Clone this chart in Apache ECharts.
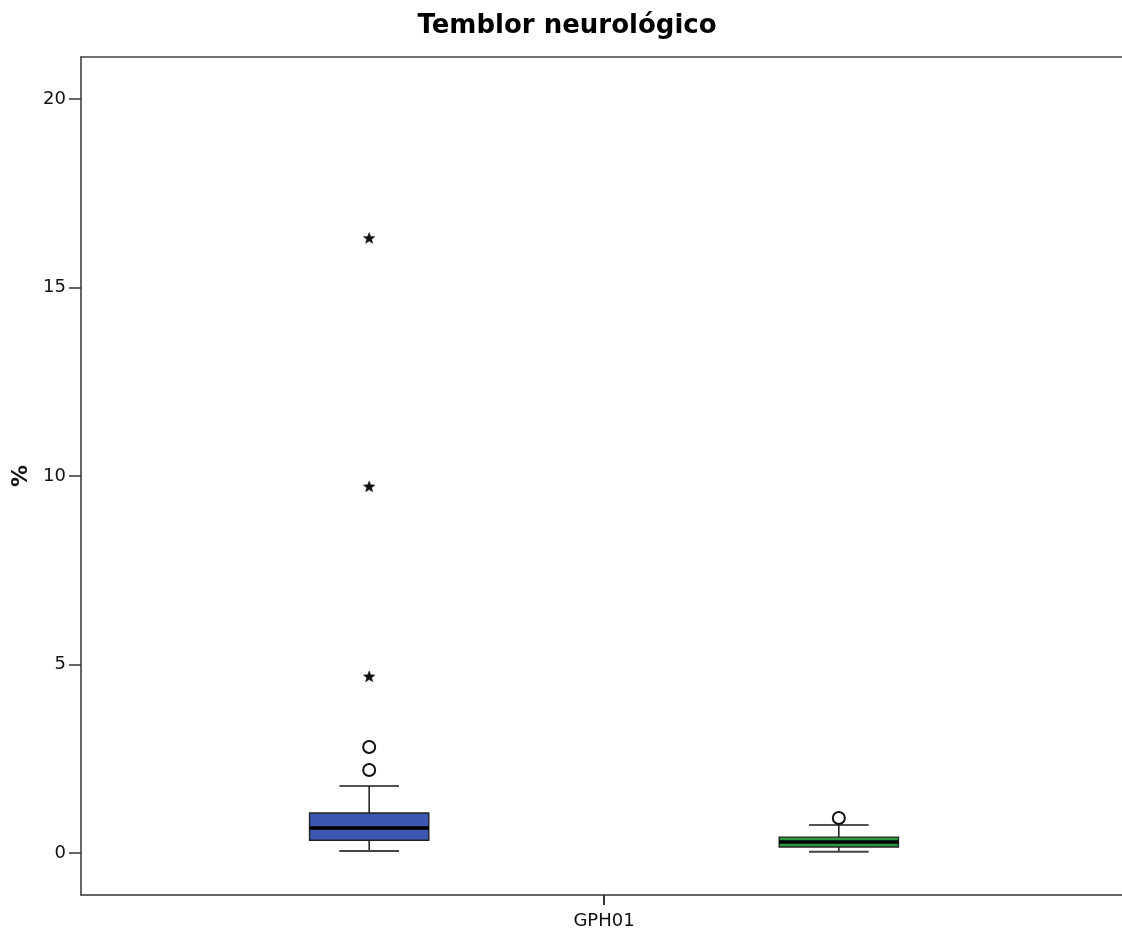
<!DOCTYPE html>
<html><head><meta charset="utf-8">
<script src="https://cdn.jsdelivr.net/npm/echarts@6/dist/echarts.min.js"></script>
<style>html,body{margin:0;padding:0;background:#fff}#c{width:1122px;height:931px}</style>
</head><body><div id="c"></div>
<script>
const categories = ['GPH01'];
// box statistics: [min, Q1, median, Q3, max]
const boxBlue = [0.05, 0.34, 0.66, 1.06, 1.78];
const boxGreen = [0.03, 0.16, 0.29, 0.42, 0.74];
// outliers (circles) and extremes (stars)
const outliersBlue = [2.20, 2.81];
const extremesBlue = [4.67, 9.71, 16.3];
const outliersGreen = [0.93];
const extremesGreen = [];
const yTicks = [0, 5, 10, 15, 20];

const BLUE = '#3b57b0', GREEN = '#2b9a3d';
const OFFSETS = [-0.2245, 0.2245];
const BOXW = 0.114;

function boxRender(off, color) {
  return function (params, api) {
    const band = api.size([1, 0])[0];
    const cx = api.coord([api.value(0), 0])[0] + off * band;
    const w = band * BOXW;
    const y = [1, 2, 3, 4, 5].map(i => api.coord([api.value(0), api.value(i)])[1]);
    const cap = w / 2;
    const ls = { stroke: '#1a1a1a', lineWidth: 1.5 };
    return {
      type: 'group',
      children: [
        { type: 'line', shape: { x1: cx, y1: y[4], x2: cx, y2: y[3] }, style: ls },
        { type: 'line', shape: { x1: cx, y1: y[1], x2: cx, y2: y[0] }, style: ls },
        { type: 'line', shape: { x1: cx - cap / 2, y1: y[4], x2: cx + cap / 2, y2: y[4] }, style: ls },
        { type: 'line', shape: { x1: cx - cap / 2, y1: y[0], x2: cx + cap / 2, y2: y[0] }, style: { stroke: '#444', lineWidth: 2 } },
        { type: 'rect', shape: { x: cx - w / 2, y: y[3], width: w, height: y[1] - y[3] }, style: { fill: color, stroke: '#222', lineWidth: 1.4 } },
        { type: 'line', shape: { x1: cx - w / 2, y1: y[2], x2: cx + w / 2, y2: y[2] }, style: { stroke: '#000', lineWidth: 3.5 } }
      ]
    };
  };
}

function starPoints(cx, cy, ro, ri) {
  const pts = [];
  for (let i = 0; i < 10; i++) {
    const r = i % 2 === 0 ? ro : ri;
    const a = -Math.PI / 2 + i * Math.PI / 5;
    pts.push([cx + r * Math.cos(a), cy + r * Math.sin(a)]);
  }
  return pts;
}

function pointRender(off, kind) {
  return function (params, api) {
    const band = api.size([1, 0])[0];
    const p = api.coord([api.value(0), api.value(1)]);
    const cx = p[0] + off * band;
    if (kind === 'circle') {
      return { type: 'circle', shape: { cx: cx, cy: p[1], r: 6 }, style: { fill: '#fff', stroke: '#111', lineWidth: 2 } };
    }
    return { type: 'polygon', shape: { points: starPoints(cx, p[1], 6, 2.6) }, style: { fill: '#111', stroke: '#111', lineWidth: 0.5 } };
  };
}

const chart = echarts.init(document.getElementById('c'), null, { renderer: 'canvas' });
const FONT = 'DejaVu Sans';
chart.setOption({
  animation: false,
  backgroundColor: '#fff',
  title: {
    text: 'Temblor neurológico', left: 562, top: 8, textAlign: 'center',
    textStyle: { fontFamily: FONT, fontWeight: 'bold', fontSize: 26, color: '#000' }
  },
  grid: { left: 81, top: 57, bottom: 36, width: 1046, outerBoundsMode: 'none', show: false },
  xAxis: [{
    type: 'category', data: categories,
    axisLine: { show: true, onZero: false, lineStyle: { color: '#333', width: 1.5 } },
    axisTick: { show: true, alignWithLabel: true, length: 10, lineStyle: { color: '#333', width: 2 } },
    axisLabel: { fontFamily: FONT, fontSize: 18, color: '#111', margin: 17 },
    splitLine: { show: false }
  }, {
    type: 'category', data: categories, position: 'top',
    axisLine: { show: true, onZero: false, lineStyle: { color: '#444', width: 1.5 } },
    axisTick: { show: false }, axisLabel: { show: false }, splitLine: { show: false }
  }],
  yAxis: {
    type: 'value', min: -1.114, max: 21.114,
    name: '%', nameLocation: 'middle', nameRotate: 90, nameGap: 34,
    nameTextStyle: { fontFamily: FONT, fontWeight: 'bold', fontSize: 22, color: '#111' },
    axisLine: { show: true, lineStyle: { color: '#333', width: 1.5 } },
    axisTick: { show: true, length: 12, customValues: yTicks, lineStyle: { color: '#333', width: 1.5 } },
    axisLabel: { fontFamily: FONT, fontSize: 18, color: '#111', margin: 15, customValues: yTicks },
    splitLine: { show: false }
  },
  series: [
    { type: 'custom', renderItem: boxRender(OFFSETS[0], BLUE), encode: { x: 0, y: [1, 2, 3, 4, 5] }, data: [[0].concat(boxBlue)] },
    { type: 'custom', renderItem: boxRender(OFFSETS[1], GREEN), encode: { x: 0, y: [1, 2, 3, 4, 5] }, data: [[0].concat(boxGreen)] },
    { type: 'custom', renderItem: pointRender(OFFSETS[0], 'circle'), encode: { x: 0, y: 1 }, data: outliersBlue.map(v => [0, v]) },
    { type: 'custom', renderItem: pointRender(OFFSETS[0], 'star'), encode: { x: 0, y: 1 }, data: extremesBlue.map(v => [0, v]) },
    { type: 'custom', renderItem: pointRender(OFFSETS[1], 'circle'), encode: { x: 0, y: 1 }, data: outliersGreen.map(v => [0, v]) },
    { type: 'custom', renderItem: pointRender(OFFSETS[1], 'star'), encode: { x: 0, y: 1 }, data: extremesGreen.map(v => [0, v]) }
  ]
});
</script>
</body></html>
